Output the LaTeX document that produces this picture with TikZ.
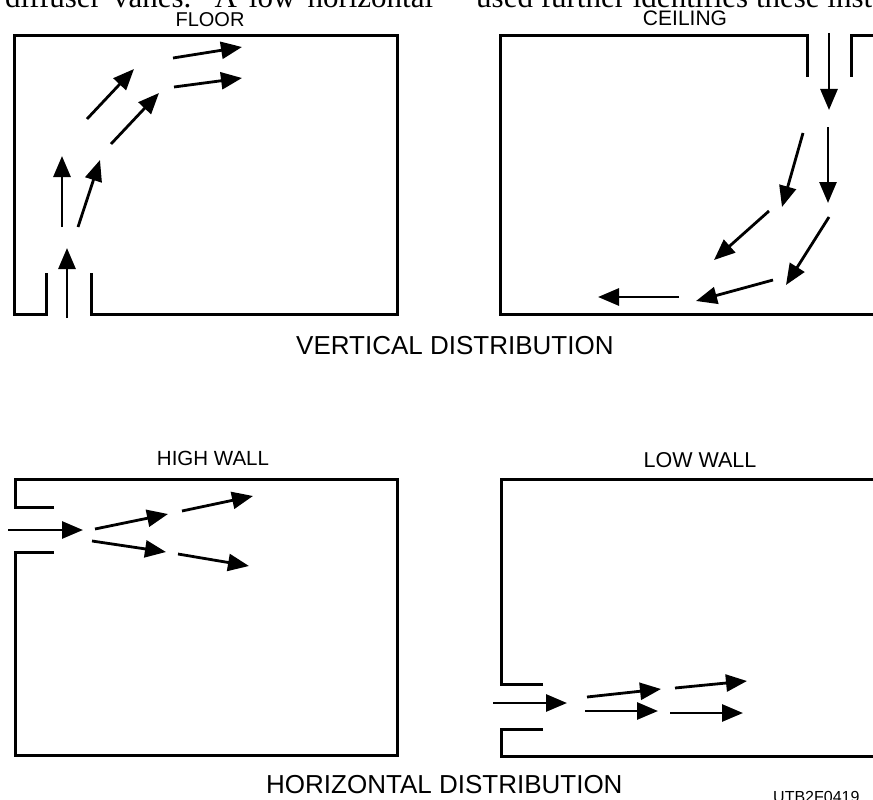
\documentclass[tikz,border=0pt]{standalone}
\usepackage{fontspec}
\setmainfont{Liberation Serif}
\newfontfamily\labfont{Liberation Sans}
\usetikzlibrary{arrows.meta}
\tikzset{
  wall/.style={line width=3pt, line join=miter},
  flow/.style={line width=2.8pt, -{Triangle[length=21pt,width=17pt]}},
  lab/.style={inner sep=0pt, font=\labfont},
  scan/.style={inner sep=0pt, anchor=base west}
}
\begin{document}
\begin{tikzpicture}[x=1pt,y=-1pt]
\useasboundingbox (0,0) rectangle (873,800);
\fill[white] (0,0) rectangle (873,800);

% cut-off scanned text at the top
\node[scan] (t1) at (5,8) {\fontsize{31}{36}\selectfont\makebox[428pt][s]{diffuser vanes. A low horizontal}};
\node[scan] (t2) at (476,8) {\fontsize{31}{36}\selectfont used further identifies these instan};

% labels
\node[lab, anchor=base] (floor) at (210,27) {\fontsize{20}{24}\selectfont FLOOR};
\node[lab, anchor=base] (ceil) at (685,26) {\fontsize{21}{24}\selectfont CEILING};
\node[lab, anchor=base west] (vert) at (296,354) {\fontsize{26}{30}\selectfont VERTICAL DISTRIBUTION};
\node[lab, anchor=base] (high) at (213,465) {\fontsize{20.5}{24}\selectfont HIGH WALL};
\node[lab, anchor=base] (low) at (700,467) {\fontsize{21.5}{24}\selectfont LOW WALL};
\node[lab, anchor=base west] (horiz) at (266,793) {\fontsize{26}{30}\selectfont HORIZONTAL DISTRIBUTION};
\node[lab, anchor=base west] (code) at (773,802) {\fontsize{16}{20}\selectfont UTB2F0419};

% ---------- FLOOR ----------
\draw[wall] (46,273) -- (46,314) -- (14,314) -- (14,36) -- (397,36) -- (397,314) -- (91,314) -- (91,273);
\coordinate (f1a) at (67,318);  \coordinate (f1b) at (67,248);
\coordinate (f2a) at (62,227);  \coordinate (f2b) at (62,156);
\coordinate (f3a) at (78,227);  \coordinate (f3b) at (100,160);
\coordinate (f4a) at (87,119);  \coordinate (f4b) at (134,69);
\coordinate (f5a) at (111,144); \coordinate (f5b) at (159,93);
\coordinate (f6a) at (173,58);  \coordinate (f6b) at (242,47);
\coordinate (f7a) at (174,87);  \coordinate (f7b) at (242,78);
\foreach \i in {1,...,7} \draw[flow] (f\i a) -- (f\i b);

% ---------- CEILING ----------
\draw[wall] (807,77) -- (807,36) -- (500,36) -- (500,314) -- (880,314);
\draw[wall] (851,77) -- (851,36) -- (880,36);
\coordinate (c1a) at (829,33);  \coordinate (c1b) at (829,110);
\coordinate (c2a) at (828,127); \coordinate (c2b) at (828,203);
\coordinate (c3a) at (803,133); \coordinate (c3b) at (782,207);
\coordinate (c4a) at (829,217); \coordinate (c4b) at (786,285);
\coordinate (c5a) at (769,211); \coordinate (c5b) at (714,260);
\coordinate (c6a) at (773,280); \coordinate (c6b) at (696,301);
\coordinate (c7a) at (679,297); \coordinate (c7b) at (598,297);
\foreach \i in {1,...,7} \draw[flow] (c\i a) -- (c\i b);

% ---------- HIGH WALL ----------
\draw[wall] (54,507) -- (15,507) -- (15,479) -- (397,479) -- (397,755) -- (15,755) -- (15,552) -- (54,552);
\coordinate (h1a) at (8,530);   \coordinate (h1b) at (83,530);
\coordinate (h2a) at (95,529);  \coordinate (h2b) at (168,514);
\coordinate (h3a) at (182,511); \coordinate (h3b) at (253,496);
\coordinate (h4a) at (92,541);  \coordinate (h4b) at (166,552);
\coordinate (h5a) at (178,554); \coordinate (h5b) at (249,566);
\foreach \i in {1,...,5} \draw[flow] (h\i a) -- (h\i b);

% ---------- LOW WALL ----------
\draw[wall] (543,684) -- (501,684) -- (501,479) -- (880,479);
\draw[wall] (543,729) -- (501,729) -- (501,756) -- (880,756);
\coordinate (l1a) at (493,703); \coordinate (l1b) at (567,703);
\coordinate (l2a) at (587,697); \coordinate (l2b) at (661,689);
\coordinate (l3a) at (675,688); \coordinate (l3b) at (747,681);
\coordinate (l4a) at (585,711); \coordinate (l4b) at (658,711);
\coordinate (l5a) at (670,713); \coordinate (l5b) at (743,713);
\foreach \i in {1,...,5} \draw[flow] (l\i a) -- (l\i b);
\end{tikzpicture}
\end{document}
